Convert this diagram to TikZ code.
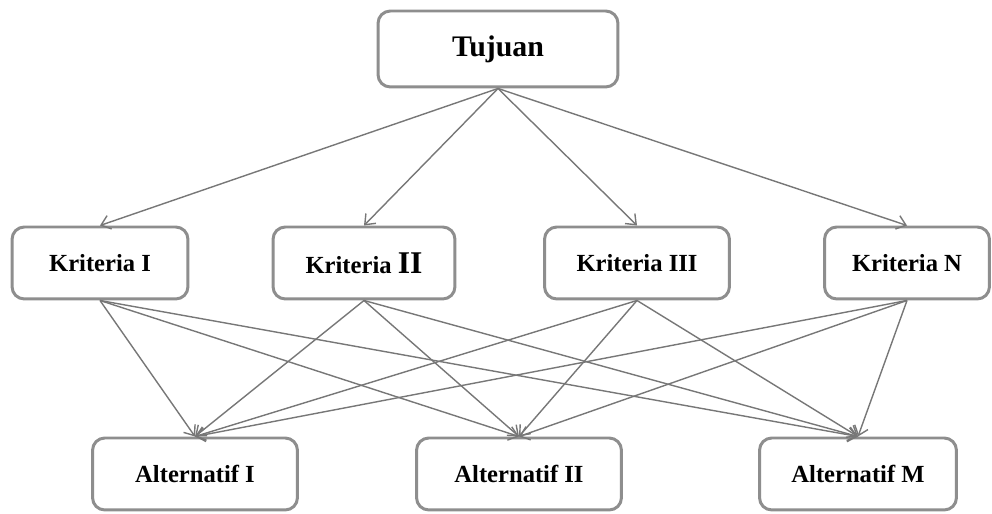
\documentclass[tikz,border=0pt]{standalone}
\usepackage{fontspec}
\setmainfont{Liberation Serif}
\usetikzlibrary{arrows.meta}
\definecolor{boxgray}{HTML}{8E8E8E}
\definecolor{linkgray}{HTML}{777777}
\tikzset{
  % all boxes share the thick grey rounded frame, only the size differs
  frame/.style = {draw=boxgray, line width=1.7pt, rounded corners=7pt,
                  fill=white, inner sep=2pt},
  goal/.style  = {frame, font=\bfseries\fontsize{17}{20}\selectfont,
                  minimum width=4.8cm, minimum height=1.52cm},
  crit/.style  = {frame, font=\bfseries\fontsize{14}{17}\selectfont,
                  minimum height=1.44cm},
  alt/.style   = {frame, font=\bfseries\fontsize{14}{17}\selectfont,
                  minimum height=1.44cm},
  link/.style  = {draw=linkgray, line width=0.8pt,
                  -{Straight Barb[length=5pt,width=8pt]}},
}

\begin{document}
\begin{tikzpicture}[x=0.02cm, y=0.02cm]
    \useasboundingbox (0,0) rectangle (992,514);

    \node[goal] (tujuan) at (498,465) {Tujuan};

    \node[crit, minimum width=3.52cm] (k1) at (100,251) {Kriteria I};
    \node[crit, minimum width=3.64cm] (k2) at (364,251)
        {Kriteria {\fontsize{18}{20}\selectfont II}};
    \node[crit, minimum width=3.70cm] (k3) at (637,251) {Kriteria III};
    \node[crit, minimum width=3.30cm] (kn) at (907,251) {Kriteria N};

    \node[alt, minimum width=4.10cm] (a1) at (195,40) {Alternatif I};
    \node[alt, minimum width=4.10cm] (a2) at (519,40) {Alternatif II};
    \node[alt, minimum width=3.94cm] (am) at (858,40) {Alternatif M};

    % goal to every criterion
    \foreach \k in {k1,k2,k3,kn}
        \draw[link] (tujuan.south) -- (\k.north);

    % every criterion to every alternative
    \foreach \k in {k1,k2,k3,kn}
        \foreach \a in {a1,a2,am}
            \draw[link] (\k.south) -- (\a.north);
\end{tikzpicture}
\end{document}
